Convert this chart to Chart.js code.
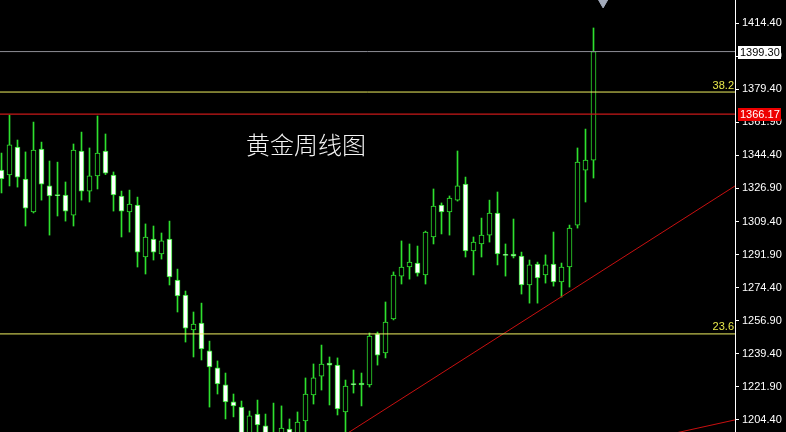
<!DOCTYPE html>
<html>
<head>
<meta charset="utf-8">
<script src="https://cdn.jsdelivr.net/npm/chart.js@4.4.1/dist/chart.umd.min.js"></script>
<style>
html, body { margin: 0; padding: 0; background: #000; overflow: hidden; }
</style>
</head>
<body>
<canvas id="chart" width="786" height="432"></canvas>
<script>
// weekly gold candles
const opens = [1336.6, 1334.0, 1348.8, 1331.9, 1314.4, 1347.7, 1328.2, 1323.6, 1323.4, 1312.8,
  1346.7, 1325.5, 1333.5, 1346.7, 1334.0, 1322.9, 1314.4, 1318.1, 1290.6, 1300.1,
  1292.2, 1300.1, 1278.4, 1270.5, 1252.0, 1255.7, 1240.9, 1231.9, 1222.9, 1213.9,
  1211.2, 1190.0, 1207.5, 1201.2, 1192.0, 1190.0, 1199.6, 1194.0, 1203.8, 1217.6,
  1227.6, 1234.5, 1233.4, 1208.6, 1223.6, 1223.9, 1222.9, 1249.9, 1239.8, 1257.8,
  1280.5, 1285.3, 1287.4, 1281.1, 1301.2, 1318.1, 1314.4, 1320.7, 1329.2, 1293.8,
  1297.5, 1302.2, 1313.9, 1292.0, 1292.2, 1291.1, 1275.8, 1286.9, 1281.1, 1286.9,
  1277.4, 1285.3, 1307.5, 1336.6, 1341.9]
const highs = [1345.6, 1365.7, 1352.5, 1346.2, 1362.0, 1351.4, 1341.4, 1340.8, 1330.3, 1350.4,
  1356.7, 1348.3, 1365.2, 1355.7, 1335.6, 1325.5, 1326.0, 1322.3, 1308.1, 1307.0,
  1303.3, 1309.6, 1284.2, 1272.6, 1261.5, 1266.2, 1246.1, 1235.6, 1229.2, 1218.1,
  1214.4, 1209.1, 1214.9, 1207.5, 1213.3, 1211.8, 1204.9, 1208.6, 1226.6, 1234.0,
  1244.0, 1237.7, 1237.2, 1225.5, 1230.8, 1229.2, 1250.4, 1250.9, 1266.8, 1282.7,
  1299.1, 1297.5, 1296.4, 1304.3, 1326.6, 1319.2, 1322.9, 1346.7, 1332.9, 1301.2,
  1311.2, 1320.7, 1325.0, 1297.5, 1310.7, 1293.2, 1289.0, 1287.9, 1291.7, 1303.8,
  1287.4, 1307.5, 1348.3, 1358.3, 1411.8]
const lows = [1324.5, 1328.2, 1327.6, 1307.0, 1313.9, 1320.7, 1302.2, 1312.3, 1309.6, 1307.0,
  1320.7, 1319.7, 1326.6, 1334.2, 1314.9, 1301.2, 1303.8, 1285.3, 1281.6, 1289.0,
  1289.5, 1275.8, 1261.5, 1245.6, 1237.7, 1236.1, 1211.2, 1218.1, 1204.9, 1206.0,
  1185.0, 1180.0, 1190.0, 1182.0, 1178.0, 1184.0, 1186.0, 1189.0, 1195.0, 1212.8,
  1220.2, 1212.3, 1207.0, 1196.0, 1218.6, 1211.8, 1221.8, 1233.4, 1237.2, 1257.3,
  1276.3, 1278.9, 1280.5, 1276.3, 1297.5, 1302.8, 1302.2, 1320.2, 1290.6, 1281.1,
  1290.6, 1298.5, 1286.4, 1280.5, 1290.1, 1271.0, 1266.2, 1266.2, 1276.8, 1275.2,
  1269.4, 1274.7, 1305.9, 1319.7, 1332.4]
const closes = [1331.9, 1349.9, 1332.9, 1316.5, 1347.2, 1329.2, 1322.9, 1323.0, 1314.9, 1347.2,
  1325.5, 1333.5, 1345.6, 1335.0, 1323.4, 1314.9, 1318.6, 1293.2, 1301.2, 1293.2,
  1299.1, 1280.0, 1270.0, 1253.0, 1255.1, 1241.9, 1232.4, 1223.4, 1213.9, 1211.8,
  1192.0, 1206.5, 1201.7, 1188.0, 1186.0, 1200.1, 1193.0, 1203.3, 1218.1, 1226.6,
  1234.0, 1233.4, 1210.2, 1222.3, 1223.0, 1222.9, 1248.8, 1238.7, 1256.2, 1281.1,
  1285.3, 1287.9, 1282.1, 1303.8, 1317.6, 1314.4, 1321.8, 1328.2, 1293.8, 1298.5,
  1302.2, 1313.9, 1292.2, 1291.4, 1291.1, 1275.8, 1286.4, 1279.5, 1286.4, 1277.4,
  1285.3, 1305.9, 1340.8, 1341.9, 1399.3]

const tickValues = [1204.4, 1221.9, 1239.4, 1256.9, 1274.4, 1291.9, 1309.4, 1326.9, 1344.4, 1361.9, 1379.4, 1396.9, 1414.4]
const bidPrice = 1399.3
const alertPrice = 1366.17
const fibLevels = [1377.9, 1249.9]
const fibNames = ["38.2", "23.6"]
const trendA = [{x: 43.19, y: 1197.2}, {x: 91.69, y: 1328.2}]
const trendB = [{x: 80, y: 1193.5}, {x: 91.69, y: 1204.4}]
const markerPoint = [{x: 75.2, y: 1425.6}]
const titleText = "黄金周线图"

const green = "#2ee02e"
const idx = opens.map((_, i) => i)
const xMin = -0.1875
const xMax = 91.6875

function flat(v) {
  return [{x: xMin - 2, y: v}, {x: xMax + 2, y: v}]
}

const overlay = {
  id: "overlay",
  afterDraw(chart) {
    const ctx = chart.ctx
    const ys = chart.scales.y
    const area = chart.chartArea
    ctx.save()
    // fib level captions
    ctx.font = '11px "Liberation Sans"'
    ctx.fillStyle = "#e8e84a"
    ctx.textAlign = "right"
    ctx.textBaseline = "bottom"
    fibLevels.forEach((v, i) => {
      ctx.fillText(fibNames[i], area.right - 1, ys.getPixelForValue(v) - 1)
    })
    // price tags on the axis
    const tags = [
      {v: bidPrice, bg: "#ffffff", fg: "#000000"},
      {v: alertPrice, bg: "#ee0000", fg: "#ffffff"}
    ]
    ctx.textAlign = "left"
    ctx.textBaseline = "middle"
    tags.forEach(t => {
      const y = Math.round(ys.getPixelForValue(t.v))
      ctx.fillStyle = t.bg
      ctx.fillRect(area.right + 3, y - 6, 43, 13)
      ctx.fillStyle = t.fg
      ctx.fillText(t.v.toFixed(2), area.right + 5, y + 1)
    })
    // title
    ctx.font = '300 24px "Noto Sans CJK SC"'
    ctx.fillStyle = "#f4f4f4"
    ctx.fillText(titleText, 246, 145)
    ctx.restore()
  }
}

new Chart(document.getElementById("chart"), {
  type: "bar",
  data: {
    datasets: [
      {type: "line", data: flat(bidPrice), borderColor: "#8e8e96", borderWidth: 1, pointRadius: 0, order: -1},
      {type: "line", data: flat(fibLevels[0]), borderColor: "#f0f060", borderWidth: 1, pointRadius: 0, order: -1},
      {type: "line", data: flat(alertPrice), borderColor: "#c81818", borderWidth: 1.2, pointRadius: 0, order: -1},
      {type: "line", data: flat(fibLevels[1]), borderColor: "#f0f060", borderWidth: 1, pointRadius: 0, order: -1},
      {type: "line", data: trendA, borderColor: "#c81010", borderWidth: 1, pointRadius: 0, order: -1},
      {type: "line", data: trendB, borderColor: "#c81010", borderWidth: 1, pointRadius: 0, order: -1},
      {type: "line", data: markerPoint, showLine: false, pointStyle: "triangle", rotation: 180,
        pointRadius: 6, backgroundColor: "#a4acbc", borderColor: "#a4acbc", order: -1},
      {
        label: "body",
        data: idx.map(i => ({x: i, y: [opens[i], closes[i]]})),
        backgroundColor: idx.map(i => closes[i] >= opens[i] ? "#000000" : "#ffffff"),
        borderColor: green,
        borderWidth: 1,
        borderSkipped: false,
        barThickness: 5,
        grouped: false,
        order: 1
      },
      {
        label: "wick",
        data: idx.map(i => ({x: i, y: [lows[i], highs[i]]})),
        backgroundColor: green,
        borderWidth: 0,
        barThickness: 1,
        grouped: false,
        order: 2
      }
    ]
  },
  options: {
    responsive: false,
    animation: false,
    layout: {padding: 0, autoPadding: false},
    plugins: {legend: {display: false}, tooltip: {enabled: false}},
    scales: {
      x: {type: "linear", min: xMin, max: xMax, display: false, offset: false},
      y: {
        position: "right",
        min: 1198.0,
        max: 1426.6,
        afterBuildTicks: s => { s.ticks = tickValues.map(v => ({value: v})) },
        afterFit: s => { s.width = 51; s.paddingTop = 0; s.paddingBottom = 0 },
        ticks: {
          color: "#ffffff",
          font: {family: "Liberation Sans", size: 11},
          padding: 3,
          callback: v => v.toFixed(2)
        },
        grid: {drawOnChartArea: false, color: "#ffffff", tickLength: 4},
        border: {color: "#ffffff"}
      }
    }
  },
  plugins: [overlay]
})
</script>
</body>
</html>
